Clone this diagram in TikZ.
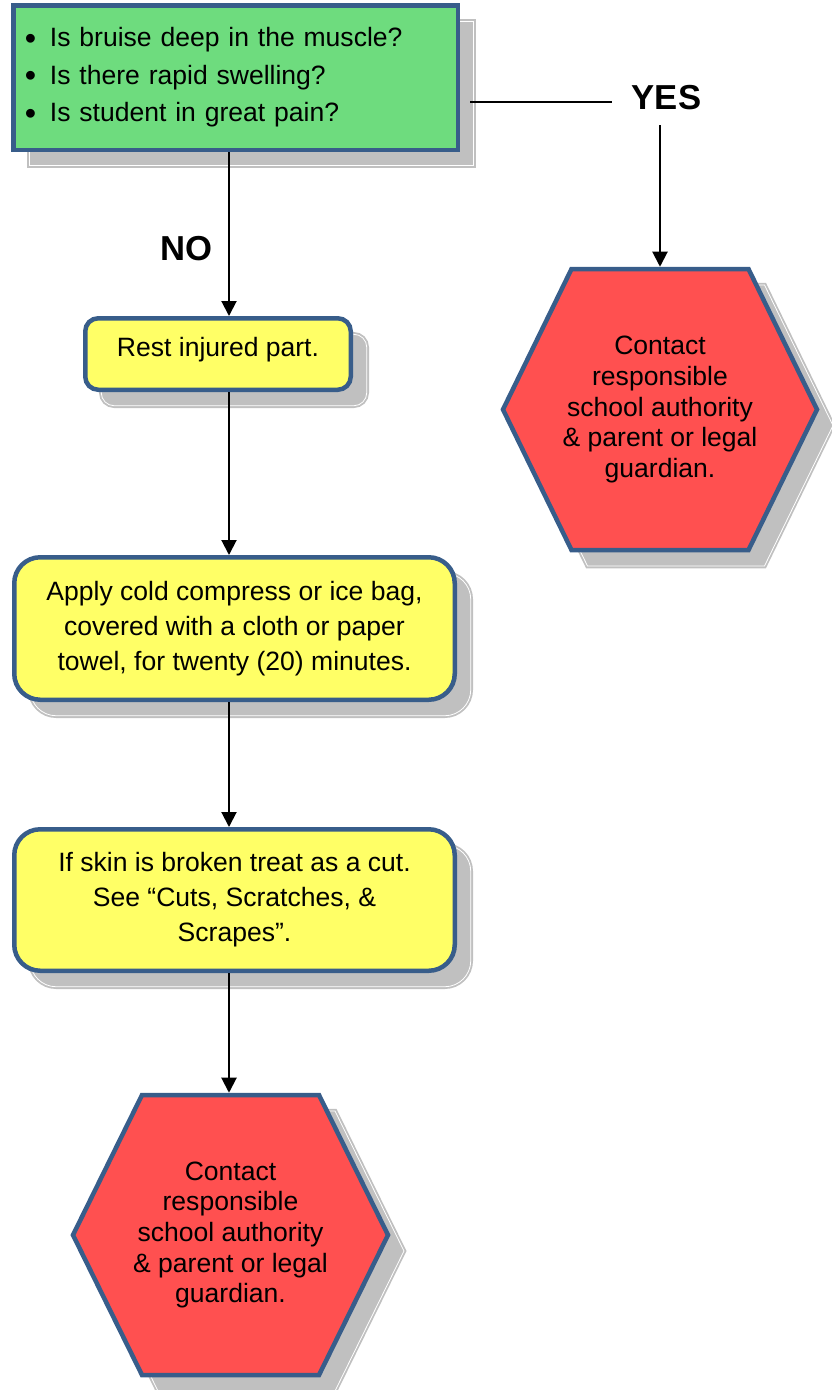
\documentclass[tikz,border=0pt]{standalone}
\usepackage{fontspec}
\setmainfont{Liberation Sans}
\usetikzlibrary{arrows.meta,calc}
\newdimen\pxu \pxu=0.75pt
\definecolor{bord}{RGB}{56,93,138}
\definecolor{greenc}{RGB}{110,220,126}
\definecolor{yellowc}{RGB}{255,255,102}
\definecolor{redc}{RGB}{255,80,80}
\definecolor{shgray}{RGB}{192,192,192}
\pgfdeclarelayer{shadowlayer}
\pgfdeclarelayer{filllayer}
\pgfsetlayers{shadowlayer,filllayer,main}
\newcommand\bul{\makebox[25\pxu][l]{\raisebox{-2.2\pxu}{\scalebox{1.22}{\textbullet}}}}

\begin{document}
\begin{tikzpicture}[x=0.75pt,y=-0.75pt,
  stepbox/.style={draw=bord, line width=4.5\pxu, inner sep=0pt, align=center},
  hexnode/.style={inner sep=0pt, outer sep=0pt, align=center,
    minimum width=314\pxu, minimum height=281\pxu,
    font=\fontsize{19.9}{22.9}\selectfont},
  hexshape/.style={fill=redc, draw=bord, line width=4.5\pxu, line join=miter},
  shadowshape/.style={fill=shgray, draw=shgray, line width=1.85\pxu,
    double=white, double distance=0.8\pxu},
  answer/.style={font=\fontsize{26}{30}\selectfont\bfseries, inner sep=0pt},
  arr/.style={line width=1.5pt, -{Triangle[length=11.25pt,width=11.25pt]}},
  link/.style={line width=1.5pt}
]
\useasboundingbox (0,0) rectangle (832,1390);

% question box
\node[stepbox, fill=greenc, minimum width=444.5\pxu, minimum height=144.5\pxu,
  text width=421\pxu, inner xsep=11.75\pxu, align=left,
  font=\fontsize{19.9}{28.1}\selectfont] (q) at (235.5,77.5)
  {\bul Is bruise deep in the muscle?\\
   \bul Is there rapid swelling?\\
   \bul Is student in great pain?};

% steps
\node[stepbox, fill=yellowc, rounded corners=13\pxu,
  minimum width=265.5\pxu, minimum height=71.5\pxu,
  text height=15\pxu, text depth=10\pxu,
  font=\fontsize{19.9}{26}\selectfont] (r) at (218,354) {Rest injured part.};

\node[stepbox, fill=yellowc, rounded corners=26\pxu,
  minimum width=440.5\pxu, minimum height=142.5\pxu,
  font=\fontsize{19.9}{26}\selectfont] (a) at (234.5,628.5)
  {Apply cold compress or ice bag,\\covered with a cloth or paper\\towel, for twenty (20) minutes.};

\node[stepbox, fill=yellowc, rounded corners=26\pxu,
  minimum width=440.5\pxu, minimum height=141.5\pxu,
  font=\fontsize{19.9}{26.25}\selectfont] (s) at (234.5,900)
  {If skin is broken treat as a cut.\\See “Cuts, Scratches, \&\\Scrapes”.};

% contact hexagons (text nodes; outlines drawn below)
\node[hexnode] (h1) at (660,409.5)
  {Contact\\responsible\\school authority\\\& parent or legal\\guardian.};
\node[hexnode, minimum width=315\pxu, minimum height=280\pxu] (h2) at (230.5,1235)
  {Contact\\responsible\\school authority\\\& parent or legal\\guardian.};

% answers
\node[answer, text height=24.3\pxu, text depth=8\pxu, inner xsep=20\pxu, inner ysep=7\pxu]
  (yes) at (666.5,101.8) {YES};
\node[answer] (no) at (186.5,248.5) {NO};

% connectors
\coordinate (spine) at (229,0);
\draw[arr] (q.south -| spine) -- (r.north -| spine);
\draw[arr] (r.south -| spine) -- (a.north -| spine);
\draw[arr] (a.south -| spine) -- (s.north -| spine);
\draw[arr, shorten >=1.7pt] (s.south -| spine) -- (h2.north -| spine);
\draw[link, shorten <=7.5pt] (q.east |- yes) -- (yes.west);
\draw[arr, shorten >=1.7pt] (yes.south -| h1.north) -- (h1.north);

% hexagon bodies
\begin{pgfonlayer}{filllayer}
\foreach \h/\d in {h1/68.5, h2/69} {
  \path[hexshape] (\h.west) -- ([xshift=\d\pxu]\h.north west)
    -- ([xshift=-\d\pxu]\h.north east) -- (\h.east)
    -- ([xshift=-\d\pxu]\h.south east) -- ([xshift=\d\pxu]\h.south west) -- cycle;
}
\end{pgfonlayer}

% drop shadows
\begin{pgfonlayer}{shadowlayer}
\path[shadowshape] ([shift={(18.25,18.25)}]q.north west)
  rectangle ([shift={(13.75,13.75)}]q.south east);
\path[shadowshape, rounded corners=13\pxu] ([shift={(18.25,18.25)}]r.north west)
  rectangle ([shift={(13.75,13.75)}]r.south east);
\path[shadowshape, rounded corners=26\pxu] ([shift={(18.25,18.25)}]a.north west)
  rectangle ([shift={(13.75,13.75)}]a.south east);
\path[shadowshape, rounded corners=26\pxu] ([shift={(18.25,18.25)}]s.north west)
  rectangle ([shift={(13.75,13.75)}]s.south east);
\foreach \h/\d in {h1/68.5, h2/69} {
  \path[shadowshape] ([shift={(16,16)}]\h.west)
    -- ([shift={(16,16)}, xshift=\d\pxu]\h.north west)
    -- ([shift={(16,16)}, xshift=-\d\pxu]\h.north east)
    -- ([shift={(16,16)}]\h.east)
    -- ([shift={(16,16)}, xshift=-\d\pxu]\h.south east)
    -- ([shift={(16,16)}, xshift=\d\pxu]\h.south west) -- cycle;
}
\end{pgfonlayer}
\end{tikzpicture}
\end{document}
